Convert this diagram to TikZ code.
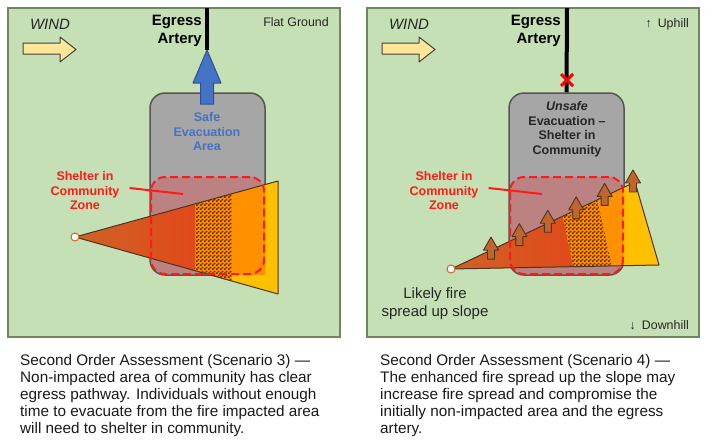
\documentclass[tikz,border=0pt]{standalone}
\usepackage{fontspec}
\setmainfont{Liberation Sans}
\usetikzlibrary{patterns}

\definecolor{groundgreen}{HTML}{C5E0B4}
\definecolor{groundedge}{HTML}{6F8660}
\definecolor{commgray}{HTML}{A6A6A6}
\definecolor{commedge}{HTML}{555555}
\definecolor{zonered}{HTML}{FF1A1A}
\definecolor{windfill}{HTML}{FFE699}
\definecolor{evacblue}{HTML}{4472C4}
\definecolor{evacedge}{HTML}{2F528F}
\definecolor{fireback}{HTML}{CD6428}
\definecolor{firefront}{HTML}{E1491A}
\definecolor{firedark}{HTML}{5A2A0A}
\definecolor{fireorange}{HTML}{FF9000}
\definecolor{fireyellow}{HTML}{FFC000}
\definecolor{fireedge}{HTML}{4A3520}
\definecolor{slopebrown}{HTML}{C0652E}
\definecolor{textgray}{HTML}{262626}

% small checker for the burning band
\pgfdeclarepatternformonly{finechecker}{\pgfpointorigin}{\pgfqpoint{4pt}{4pt}}{\pgfqpoint{4pt}{4pt}}{%
    \pgfpathrectangle{\pgfpointorigin}{\pgfqpoint{2pt}{2pt}}%
    \pgfpathrectangle{\pgfqpoint{2pt}{2pt}}{\pgfqpoint{2pt}{2pt}}%
    \pgfusepath{fill}}

\begin{document}
\begin{tikzpicture}[x=1pt,y=-1pt,
    ground/.style={draw=groundedge,fill=groundgreen,line width=1.5pt},
    community/.style={draw=commedge,fill=commgray,line width=1.5pt,rounded corners=15pt,
        minimum width=115pt,minimum height=182pt,inner sep=0pt},
    zonebg/.style={fill=zonered,fill opacity=0.25,rounded corners=14pt,
        minimum width=113pt,minimum height=97pt,inner sep=0pt},
    zoneline/.style={draw=zonered,line width=2pt,dash pattern=on 8pt off 4pt,rounded corners=14pt,
        minimum width=113pt,minimum height=97pt,inner sep=0pt},
    windarrow/.style={draw=black!75,fill=windfill,line width=1pt,line join=round},
    evacarrow/.style={draw=evacedge,fill=evacblue,line width=1pt,line join=round},
    road/.style={draw=black,line width=4pt},
    pointer/.style={draw=zonered,line width=2pt},
    fireline/.style={draw=fireedge,line width=1pt,line join=round},
    slopearrow/.style={draw=fireedge,fill=slopebrown,line width=0.9pt,line join=round},
    windtext/.style={font=\fontsize{15}{18}\selectfont\itshape,text=textgray,inner sep=0pt},
    egresstext/.style={font=\fontsize{15}{18}\selectfont\bfseries,align=right,inner sep=0pt,anchor=north east},
    zonetext/.style={font=\fontsize{12.5}{14.5}\selectfont\bfseries,text=zonered,align=center,inner sep=0pt},
    boxtext/.style={font=\fontsize{12.5}{14.5}\selectfont\bfseries,align=center,inner sep=0pt},
    smalltext/.style={font=\fontsize{12.4}{15}\selectfont,text=textgray,inner sep=0pt},
    caption/.style={font=\fontsize{15.3}{17}\selectfont,text=black!90,align=left,inner sep=0pt,anchor=north west},
    ]
    \useasboundingbox (0,0) rectangle (727,445);

    % both panels: ground, wind, community and its zone
    \foreach \dx/\side in {0/L,359/R}{
        \begin{scope}[xshift=\dx pt]
            \draw[ground] (8,8) rectangle (340,337);
            \node[windtext] (wind\side) at (50,24) {WIND};
            \draw[windarrow] (23,43) -- (60,43) -- (60,37) -- (76,49.5) -- (60,62) -- (60,54) -- (23,54) -- cycle;
            \node[egresstext] (egress\side) at (202,14.5) {Egress\\Artery};
            \node[community] (comm\side) at (207.5,184) {};
            \node[zonebg] (zonebg\side) at (207.5,225.5) {};
        \end{scope}
    }

    % left: flat ground, open egress
    \node[smalltext] (flat) at (296,22) {Flat Ground};
    \coordinate (roadtopL) at (207,8);
    \coordinate (evactip) at (207,50);
    \draw[road] (roadtopL) -- (evactip);
    \draw[evacarrow] (200.5,104) -- (200.5,83) -- (193,83) -- (evactip) -- (221,83) -- (213.5,83) -- (213.5,104) -- cycle;
    \node[boxtext,text=evacblue] (evac) at (207,132) {Safe\\Evacuation\\Area};

    % right: slope, blocked egress
    \node[smalltext,anchor=east] (uphill) at (689,24) {↑\hspace{6pt}Uphill};
    \node[smalltext,anchor=east] (downhill) at (689,325) {↓\hspace{6pt}Downhill};
    \coordinate (roadtopR) at (567,8);
    \draw[road] (roadtopR) -- (commR.north);
    \draw[draw=red,line width=3pt] (561,74) -- (573,86) (561,86) -- (573,74);
    \node[boxtext,text=textgray] (unsafe) at (567,129.5) {\textit{Unsafe}\\Evacuation –\\Shelter in\\Community};
    \node[font=\fontsize{15}{18}\selectfont,text=textgray,align=center,inner sep=0pt] (likely) at (435,304) {Likely fire\\spread up slope};

    % fire, flat ground
    \begin{scope}
        \clip (75,237) -- (278,181) -- (278,294) -- cycle;
        \fill[fireyellow] (70,170) rectangle (285,300);
        \shade[left color=fireback,right color=firefront] (70,170) rectangle (195,300);
        \fill[fireorange] (195,170) rectangle (232,300);
        \fill[pattern=finechecker,pattern color=firedark] (195,170) rectangle (232,300);
        \fill[fireorange] (232,170) rectangle (265,275);
    \end{scope}
    \draw[fireline] (75,237) -- (278,181) -- (278,294) -- cycle;
    \draw[fill=white,draw=fireback,line width=1pt] (75,237) circle[radius=4pt];

    % fire, up slope
    \begin{scope}
        \clip (451,269) -- (635,182) -- (659,265) -- cycle;
        \fill[fireyellow] (440,170) rectangle (670,280);
        \shade[left color=fireback,right color=firefront] (440,170) -- (553,170) -- (576,280) -- (440,280) -- cycle;
        \fill[fireorange] (553,170) -- (591,170) -- (615,280) -- (576,280) -- cycle;
        \fill[pattern=finechecker,pattern color=firedark] (553,170) -- (591,170) -- (615,280) -- (576,280) -- cycle;
        \fill[fireorange] (591,170) -- (623,170) -- (623,280) -- (615,280) -- cycle;
    \end{scope}
    \draw[fireline] (451,269) -- (635,182) -- (659,265) -- cycle;
    \foreach \i in {0,...,5}{
        \pgfmathsetmacro\ax{491+28.4*\i}
        \pgfmathsetmacro\ay{269-0.4728*(\ax-451)}
        \draw[slopearrow] ({\ax-3.5},{\ay+9}) -- ++(0,-9) -- ++(-4,0) -- ++(7.5,-13) -- ++(7.5,13) -- ++(-4,0) -- ++(0,9) -- cycle;
    }
    \draw[fill=white,draw=fireback,line width=1pt] (451,269) circle[radius=4pt];

    % dashed zones and their labels
    \foreach \dx/\side in {0/L,359/R}{
        \begin{scope}[xshift=\dx pt]
            \node[zoneline] (zone\side) at (207.5,225.5) {};
            \node[zonetext] (zonetext\side) at (85,191) {Shelter in\\Community\\Zone};
            \coordinate (zonetip\side) at (183,194);
            \draw[pointer] ([xshift=10pt,yshift=3pt]zonetext\side.east) -- (zonetip\side);
        \end{scope}
    }

    % captions
    \node[caption] (captionL) at (20,354) {Second Order Assessment (Scenario 3) —\\Non-impacted area of community has clear\\egress pathway. Individuals without enough\\time to evacuate from the fire impacted area\\will need to shelter in community.};
    \node[caption] (captionR) at (380,354) {Second Order Assessment (Scenario 4) —\\The enhanced fire spread up the slope may\\increase fire spread and compromise the\\initially non-impacted area and the egress\\artery.};
\end{tikzpicture}
\end{document}
